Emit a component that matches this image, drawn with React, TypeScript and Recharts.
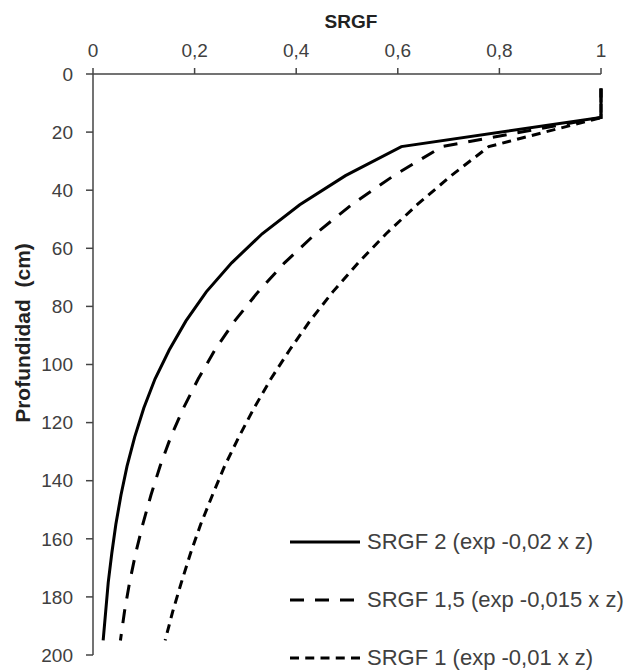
import React from "react";
import { LineChart, Line, XAxis, YAxis, Legend, Label } from "recharts";

// depth (cm) of each sampled layer
const depths = [5, 15, 25, 35, 45, 55, 65, 75, 85, 95, 105, 115, 125, 135, 145, 155, 165, 175, 185, 195];

// SRGF values
const srgf2 = [1, 1, 0.607, 0.497, 0.407, 0.333, 0.273, 0.223, 0.183, 0.15, 0.122, 0.1, 0.082, 0.067, 0.055, 0.045, 0.037, 0.03, 0.025, 0.02];
const srgf15 = [1, 1, 0.687, 0.592, 0.509, 0.438, 0.377, 0.325, 0.279, 0.24, 0.207, 0.178, 0.153, 0.132, 0.114, 0.098, 0.084, 0.072, 0.062, 0.054];
const srgf1 = [1, 1, 0.779, 0.705, 0.638, 0.577, 0.522, 0.472, 0.427, 0.387, 0.35, 0.317, 0.287, 0.259, 0.235, 0.212, 0.192, 0.174, 0.157, 0.142];

const seriesNames = ["SRGF 2 (exp -0,02 x z)", "SRGF 1,5 (exp -0,015 x z)", "SRGF 1 (exp -0,01 x z)"];
const xTicks = [0, 0.2, 0.4, 0.6, 0.8, 1];
const yTicks = [0, 20, 40, 60, 80, 100, 120, 140, 160, 180, 200];

const rows = depths.map((depth, i) => ({ depth, s2: srgf2[i], s15: srgf15[i], s1: srgf1[i] }));

const FONT = "'Liberation Sans', Arial, sans-serif";
const TEXT = "#404040";
const AXIS = "#444";
const dashes = [undefined, "14 11", "9 6.25"];

const fmt = (v: number) => String(v).replace(".", ",");

const LegendBox = () => (
  <div style={{ fontFamily: FONT, fontSize: 22, color: TEXT, whiteSpace: "nowrap" }}>
    {seriesNames.map((name, i) => (
      <div key={name} style={{ height: 58, display: "flex", alignItems: "center" }}>
        <svg width={70} height={6} style={{ marginRight: 7 }}>
          <line x1={0} y1={3} x2={70} y2={3} stroke="#000" strokeWidth={3} strokeDasharray={dashes[i]} />
        </svg>
        <span>{name}</span>
      </div>
    ))}
  </div>
);

const YTitle = () => (
  <text
    x={22}
    y={333}
    transform="rotate(-90 22 333)"
    textAnchor="middle"
    dominantBaseline="central"
    style={{ whiteSpace: "pre" }}
    fontFamily={FONT}
    fontSize={21}
    fontWeight="bold"
    fill="#222"
  >
    Profundidad  (cm)
  </text>
);

export default function App() {
  return (
    <div style={{ position: "absolute", left: 0, top: 0, background: "#fff" }}>
      <LineChart
        width={631}
        height={670}
        data={rows}
        layout="vertical"
        margin={{ top: 0, right: 30, bottom: 15, left: 0 }}
      >
        <XAxis
          type="number"
          orientation="top"
          domain={[0, 1]}
          ticks={xTicks}
          tickFormatter={fmt}
          height={74}
          tickSize={6}
          tickMargin={11}
          axisLine={{ stroke: AXIS, strokeWidth: 1.5 }}
          tickLine={{ stroke: AXIS, strokeWidth: 1.5 }}
          tick={{ fill: TEXT, fontSize: 19, fontFamily: FONT }}
        >
          <Label value="SRGF" position="insideTop" offset={15} dx={4} fill="#222" fontSize={19} fontWeight="bold" fontFamily={FONT} />
        </XAxis>
        <YAxis
          type="number"
          dataKey="depth"
          domain={[0, 200]}
          ticks={yTicks}
          width={93}
          tickSize={7}
          tickMargin={13}
          axisLine={{ stroke: AXIS, strokeWidth: 1.5 }}
          tickLine={{ stroke: AXIS, strokeWidth: 1.5 }}
          tick={{ fill: TEXT, fontSize: 19, fontFamily: FONT }}
        >
          <Label content={() => <YTitle />} />
        </YAxis>
        <Line type="linear" dataKey="s2" name={seriesNames[0]} stroke="#000" strokeWidth={3} dot={false} isAnimationActive={false} />
        <Line type="linear" dataKey="s15" name={seriesNames[1]} stroke="#000" strokeWidth={3} strokeDasharray={dashes[1]} dot={false} isAnimationActive={false} />
        <Line type="linear" dataKey="s1" name={seriesNames[2]} stroke="#000" strokeWidth={3} strokeDasharray={dashes[2]} dot={false} isAnimationActive={false} />
        <Legend
          layout="vertical"
          align="center"
          verticalAlign="middle"
          wrapperStyle={{ left: 290, top: 513, width: 341 }}
          content={() => <LegendBox />}
        />
      </LineChart>
    </div>
  );
}
